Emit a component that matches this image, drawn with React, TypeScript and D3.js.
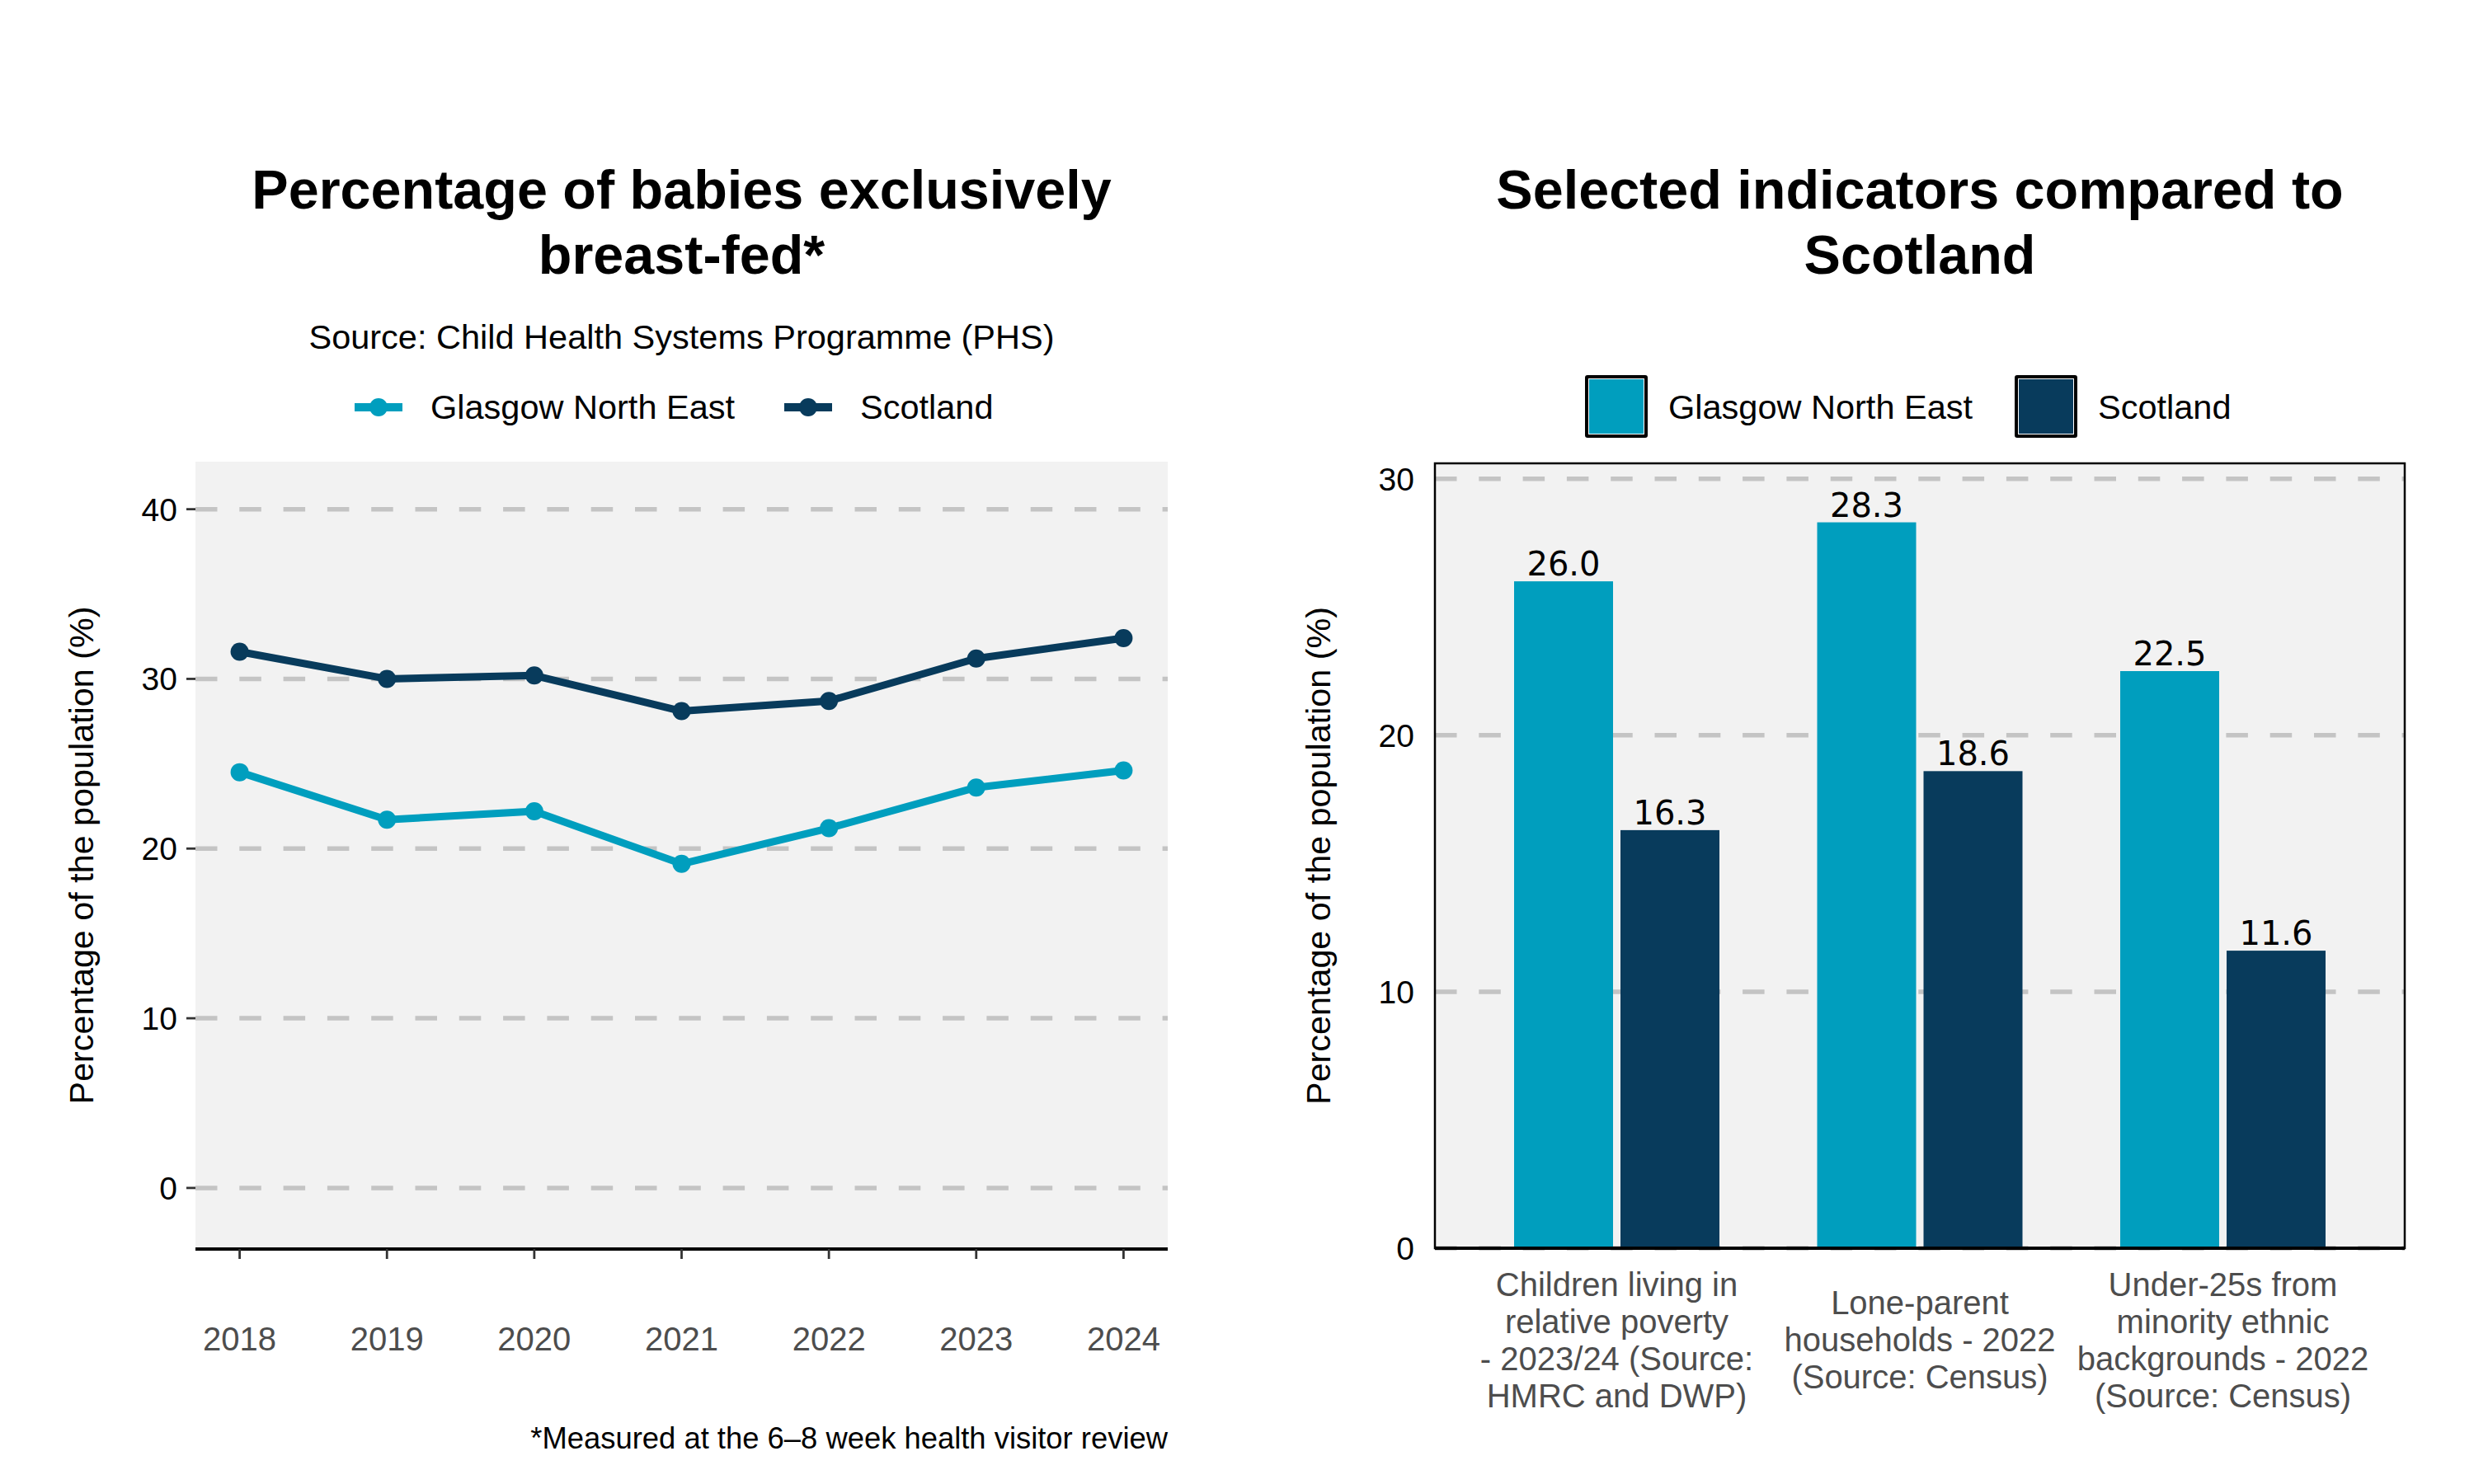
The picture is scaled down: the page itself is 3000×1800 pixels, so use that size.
import React, { useEffect, useRef } from "react";
import * as d3 from "d3";

// breast-feeding trend
const years = [2018, 2019, 2020, 2021, 2022, 2023, 2024];
const glasgowBreastfed = [24.5, 21.7, 22.2, 19.1, 21.2, 23.6, 24.6];
const scotlandBreastfed = [31.6, 30.0, 30.2, 28.1, 28.7, 31.2, 32.4];
const lineTicks = [0, 10, 20, 30, 40];

// indicator comparison
const indicators = ["poverty", "loneParent", "minorityEthnic"];
const indicatorLabels = [
  ["Children living in", "relative poverty", "- 2023/24 (Source:", "HMRC and DWP)"],
  ["Lone-parent", "households - 2022", "(Source: Census)"],
  ["Under-25s from", "minority ethnic", "backgrounds - 2022", "(Source: Census)"],
];
const glasgowIndicators = [26.0, 28.3, 22.5];
const scotlandIndicators = [16.3, 18.6, 11.6];
const barTicks = [0, 10, 20, 30];

const seriesNames = ["Glasgow North East", "Scotland"];
const seriesColours = ["#009EBE", "#083B5C"];

const FONT = "'Liberation Sans', Arial, sans-serif";
const GRID = "#C4C4C4";
const PANEL_BG = "#F2F2F2";

const App: React.FC = () => {
  const svgRef = useRef<SVGSVGElement | null>(null);

  useEffect(() => {
    const width = 3000;
    const height = 1800;
    const svg = d3
      .select(svgRef.current)
      .attr("width", width)
      .attr("height", height)
      .attr("viewBox", [0, 0, width, height])
      .style("font-family", FONT);
    svg.selectAll("*").remove();
    svg.append("rect").attr("width", width).attr("height", height).attr("fill", "#fff");

    // ---------- left: line chart ----------
    const L = { left: 237, right: 1416, top: 560, bottom: 1515 };
    const x = d3
      .scaleLinear()
      .domain([2017.7, 2024.3])
      .range([L.left, L.right]);
    const y = d3.scaleLinear().domain([-3.6, 42.8]).range([L.bottom, L.top]);
    const lcx = (L.left + L.right) / 2;

    const left = svg.append("g");
    left
      .append("rect")
      .attr("x", L.left)
      .attr("y", L.top)
      .attr("width", L.right - L.left)
      .attr("height", L.bottom - L.top)
      .attr("fill", PANEL_BG);

    left
      .selectAll(".grid")
      .data(lineTicks)
      .enter()
      .append("line")
      .attr("x1", L.left)
      .attr("x2", L.right)
      .attr("y1", (d) => y(d))
      .attr("y2", (d) => y(d))
      .attr("stroke", GRID)
      .attr("stroke-width", 5.5)
      .attr("stroke-dasharray", "26.5 26.8");

    // y ticks + labels
    left
      .selectAll(".ytick")
      .data(lineTicks)
      .enter()
      .append("line")
      .attr("x1", L.left - 11)
      .attr("x2", L.left)
      .attr("y1", (d) => y(d))
      .attr("y2", (d) => y(d))
      .attr("stroke", "#333")
      .attr("stroke-width", 2.8);
    left
      .selectAll(".ylab")
      .data(lineTicks)
      .enter()
      .append("text")
      .attr("x", L.left - 22)
      .attr("y", (d) => y(d) + 14)
      .attr("text-anchor", "end")
      .attr("font-size", 39)
      .attr("fill", "#000")
      .text((d) => d);

    // x axis
    left
      .append("line")
      .attr("x1", L.left)
      .attr("x2", L.right)
      .attr("y1", L.bottom)
      .attr("y2", L.bottom)
      .attr("stroke", "#000")
      .attr("stroke-width", 4);
    left
      .selectAll(".xtick")
      .data(years)
      .enter()
      .append("line")
      .attr("x1", (d) => x(d))
      .attr("x2", (d) => x(d))
      .attr("y1", L.bottom)
      .attr("y2", L.bottom + 12)
      .attr("stroke", "#333")
      .attr("stroke-width", 2.8);
    left
      .selectAll(".xlab")
      .data(years)
      .enter()
      .append("text")
      .attr("x", (d) => x(d))
      .attr("y", 1638)
      .attr("text-anchor", "middle")
      .attr("font-size", 40)
      .attr("fill", "#4D4D4D")
      .text((d) => d);

    // lines and points
    const line = d3
      .line<number>()
      .x((_, i) => x(years[i]))
      .y((d) => y(d));
    [glasgowBreastfed, scotlandBreastfed].forEach((vals, s) => {
      left
        .append("path")
        .attr("d", line(vals))
        .attr("fill", "none")
        .attr("stroke", seriesColours[s])
        .attr("stroke-width", 9)
        .attr("stroke-linejoin", "round");
      left
        .selectAll(".pt" + s)
        .data(vals)
        .enter()
        .append("circle")
        .attr("cx", (_, i) => x(years[i]))
        .attr("cy", (d) => y(d))
        .attr("r", 11)
        .attr("fill", seriesColours[s]);
    });

    // titles
    left
      .append("text")
      .attr("x", lcx)
      .attr("text-anchor", "middle")
      .attr("font-size", 66.5)
      .attr("font-weight", "bold")
      .selectAll("tspan")
      .data(["Percentage of babies exclusively", "breast-fed*"])
      .enter()
      .append("tspan")
      .attr("x", lcx)
      .attr("y", (_, i) => 253 + i * 79)
      .text((d) => d);
    left
      .append("text")
      .attr("x", lcx)
      .attr("y", 423)
      .attr("text-anchor", "middle")
      .attr("font-size", 41.5)
      .text("Source: Child Health Systems Programme (PHS)");

    // legend
    const lineLegendX = [430, 951];
    seriesNames.forEach((name, s) => {
      const g = left.append("g").attr("transform", `translate(${lineLegendX[s]},494)`);
      g.append("line")
        .attr("x1", 0)
        .attr("x2", 58)
        .attr("stroke", seriesColours[s])
        .attr("stroke-width", 10);
      g.append("circle").attr("cx", 29).attr("r", 11).attr("fill", seriesColours[s]);
      g.append("text")
        .attr("x", 92)
        .attr("y", 14)
        .attr("font-size", 41.5)
        .text(name);
    });

    left
      .append("text")
      .attr("transform", `translate(113,${(L.top + L.bottom) / 2}) rotate(-90)`)
      .attr("text-anchor", "middle")
      .attr("font-size", 41.3)
      .text("Percentage of the population (%)");

    left
      .append("text")
      .attr("x", L.right)
      .attr("y", 1757)
      .attr("text-anchor", "end")
      .attr("font-size", 36.4)
      .text("*Measured at the 6\u20138 week health visitor review");

    // ---------- right: bar chart ----------
    const R = { left: 1740, right: 2916, top: 562, bottom: 1514 };
    const xg = d3.scalePoint().domain(indicators).range([R.left, R.right]).padding(0.6);
    const xs = d3
      .scaleBand()
      .domain(seriesNames)
      .range([-124.5, 124.5])
      .paddingInner(0.0698);
    const yb = d3.scaleLinear().domain([0, 30.6]).range([R.bottom, R.top]);
    const rcx = (R.left + R.right) / 2;

    const right = svg.append("g");
    right
      .append("rect")
      .attr("x", R.left)
      .attr("y", R.top)
      .attr("width", R.right - R.left)
      .attr("height", R.bottom - R.top)
      .attr("fill", PANEL_BG);
    right
      .selectAll(".grid")
      .data(barTicks)
      .enter()
      .append("line")
      .attr("x1", R.left)
      .attr("x2", R.right)
      .attr("y1", (d) => yb(d))
      .attr("y2", (d) => yb(d))
      .attr("stroke", GRID)
      .attr("stroke-width", 5.5)
      .attr("stroke-dasharray", "26.5 26.8");

    [glasgowIndicators, scotlandIndicators].forEach((vals, s) => {
      const bars = right
        .selectAll(".bar" + s)
        .data(vals)
        .enter()
        .append("g");
      bars
        .append("rect")
        .attr("x", (_, i) => (xg(indicators[i]) as number) + (xs(seriesNames[s]) as number))
        .attr("y", (d) => yb(d))
        .attr("width", xs.bandwidth())
        .attr("height", (d) => yb(0) - yb(d))
        .attr("fill", seriesColours[s]);
      bars
        .append("text")
        .attr(
          "x",
          (_, i) =>
            (xg(indicators[i]) as number) + (xs(seriesNames[s]) as number) + xs.bandwidth() / 2,
        )
        .attr("y", (d) => yb(d) - 7)
        .attr("text-anchor", "middle")
        .attr("font-family", "'DejaVu Sans', sans-serif")
        .attr("font-size", 40)
        .text((d) => d.toFixed(1));
    });

    // panel border and axis line
    right
      .append("rect")
      .attr("x", R.left)
      .attr("y", R.top)
      .attr("width", R.right - R.left)
      .attr("height", R.bottom - R.top)
      .attr("fill", "none")
      .attr("stroke", "#000")
      .attr("stroke-width", 2.5);
    right
      .append("line")
      .attr("x1", R.left)
      .attr("x2", R.right)
      .attr("y1", R.bottom)
      .attr("y2", R.bottom)
      .attr("stroke", "#000")
      .attr("stroke-width", 4);

    right
      .selectAll(".ylab")
      .data(barTicks)
      .enter()
      .append("text")
      .attr("x", 1715)
      .attr("y", (d) => yb(d) + 14)
      .attr("text-anchor", "end")
      .attr("font-size", 39)
      .text((d) => d);

    indicatorLabels.forEach((lines, i) => {
      const cx = xg(indicators[i]) as number;
      const top = 1639 - ((lines.length - 1) * 45) / 2;
      right
        .append("text")
        .attr("text-anchor", "middle")
        .attr("font-size", 40)
        .attr("fill", "#4D4D4D")
        .selectAll("tspan")
        .data(lines)
        .enter()
        .append("tspan")
        .attr("x", cx)
        .attr("y", (_, k) => top + k * 45)
        .text((d) => d);
    });

    right
      .append("text")
      .attr("x", rcx)
      .attr("text-anchor", "middle")
      .attr("font-size", 66.5)
      .attr("font-weight", "bold")
      .selectAll("tspan")
      .data(["Selected indicators compared to", "Scotland"])
      .enter()
      .append("tspan")
      .attr("x", rcx)
      .attr("y", (_, i) => 253 + i * 79)
      .text((d) => d);

    const barLegendX = [1922, 2443];
    seriesNames.forEach((name, s) => {
      const g = right.append("g").attr("transform", `translate(${barLegendX[s]},455)`);
      g.append("rect").attr("width", 76).attr("height", 76).attr("rx", 3).attr("fill", "#000");
      g.append("rect").attr("x", 4).attr("y", 4).attr("width", 68).attr("height", 68).attr("fill", "#fff");
      g.append("rect")
        .attr("x", 5)
        .attr("y", 5)
        .attr("width", 66)
        .attr("height", 66)
        .attr("fill", seriesColours[s]);
      g.append("text")
        .attr("x", 101)
        .attr("y", 53)
        .attr("font-size", 41.5)
        .text(name);
    });

    right
      .append("text")
      .attr("transform", `translate(1613,${(R.top + R.bottom) / 2}) rotate(-90)`)
      .attr("text-anchor", "middle")
      .attr("font-size", 41.3)
      .text("Percentage of the population (%)");
  }, []);

  return (
    <div style={{ position: "absolute", left: 0, top: 0 }}>
      <svg ref={svgRef} style={{ display: "block" }}></svg>
    </div>
  );
};

export default App;
